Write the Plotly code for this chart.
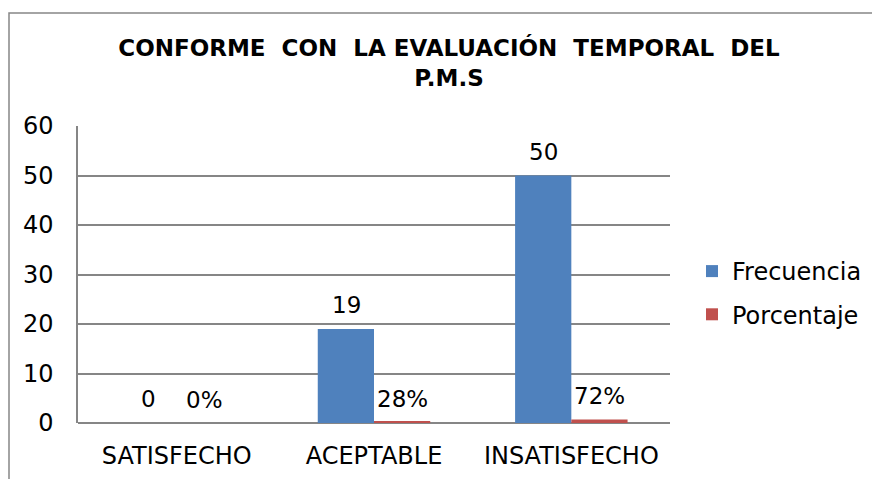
import plotly.graph_objects as go

categories = ["SATISFECHO", "ACEPTABLE", "INSATISFECHO"]
frecuencia = [0, 19, 50]
porcentaje = [0.0, 0.28, 0.72]
frecuencia_labels = ["0", "19", "50"]
porcentaje_labels = ["0%", "28%", "72%"]
y_ticks = [0, 10, 20, 30, 40, 50, 60]

FONT = "DejaVu Sans, Arial, sans-serif"
GRID = "#868686"
OFF = 8  # page body margin
BAR_HALF = 28  # half bar width in px, for label placement

fig = go.Figure()
fig.add_trace(go.Bar(
    x=categories, y=frecuencia, name="Frecuencia", legendgroup="f",
    marker=dict(color="#4F81BD", line=dict(width=0)),
))
fig.add_trace(go.Bar(
    x=categories, y=porcentaje, name="Porcentaje", legendgroup="p",
    marker=dict(color="#C0504D", line=dict(width=0)),
))

annotations = []
for cat, v, lab in zip(categories, frecuencia, frecuencia_labels):
    annotations.append(dict(x=cat, y=v, xref="x", yref="y", text=lab, showarrow=False,
                            xshift=-BAR_HALF, yshift=9, yanchor="bottom", xanchor="center",
                            font=dict(family=FONT, size=23, color="black")))
for cat, v, lab in zip(categories, porcentaje, porcentaje_labels):
    annotations.append(dict(x=cat, y=v, xref="x", yref="y", text=lab, showarrow=False,
                            xshift=BAR_HALF, yshift=8, yanchor="bottom", xanchor="center",
                            font=dict(family=FONT, size=23, color="black")))

W, H = 880 - OFF, 479 - OFF
L, R, T, B = 78 - OFF, 880 - 670, 126 - OFF, 479 - 423
pw, ph = W - L - R, H - T - B

def px_x(p):
    return (p - OFF - L) / pw

def px_y(p):
    return (H - B - (p - OFF)) / ph

fig.update_layout(
    width=W, height=H,
    margin=dict(l=L, r=R, t=T, b=B, autoexpand=False),
    paper_bgcolor="white", plot_bgcolor="white",
    barmode="group", bargap=0.43, bargroupgap=0,
    font=dict(family=FONT, size=24, color="black"),
    title=dict(
        text="<b>CONFORME  CON  LA EVALUACIÓN  TEMPORAL  DEL<br>P.M.S</b>",
        x=(449 - OFF) / W, xanchor="center",
        y=1 - 48 / H, yanchor="top",
        font=dict(family=FONT, size=23, color="black"),
        automargin=False,
    ),
    showlegend=True,
    legend=dict(
        x=px_x(692), xanchor="left",
        y=px_y(249), yanchor="top",
        font=dict(family=FONT, size=24, color="black"),
        tracegroupgap=9, itemsizing="constant",
        bgcolor="rgba(0,0,0,0)",
    ),
    xaxis=dict(
        showgrid=False, showline=False, zeroline=False, automargin=False,
        ticks="", ticklabelstandoff=16,
        tickfont=dict(family=FONT, size=24, color="black"),
    ),
    yaxis=dict(
        range=[0, 60], tickvals=y_ticks, automargin=False,
        showgrid=True, gridcolor=GRID, gridwidth=1.5,
        showline=True, linecolor=GRID, linewidth=1.5,
        zeroline=True, zerolinecolor=GRID, zerolinewidth=1.5,
        ticks="", ticklen=0, ticklabelstandoff=18,
        tickfont=dict(family=FONT, size=24, color="black"),
    ),
    annotations=annotations,
    shapes=[dict(
        type="rect", xref="paper", yref="paper",
        x0=px_x(9), x1=px_x(900), y0=px_y(500), y1=px_y(13),
        line=dict(color=GRID, width=1.5), fillcolor="rgba(0,0,0,0)", layer="below",
    )],
)

fig.write_html("out.html")
